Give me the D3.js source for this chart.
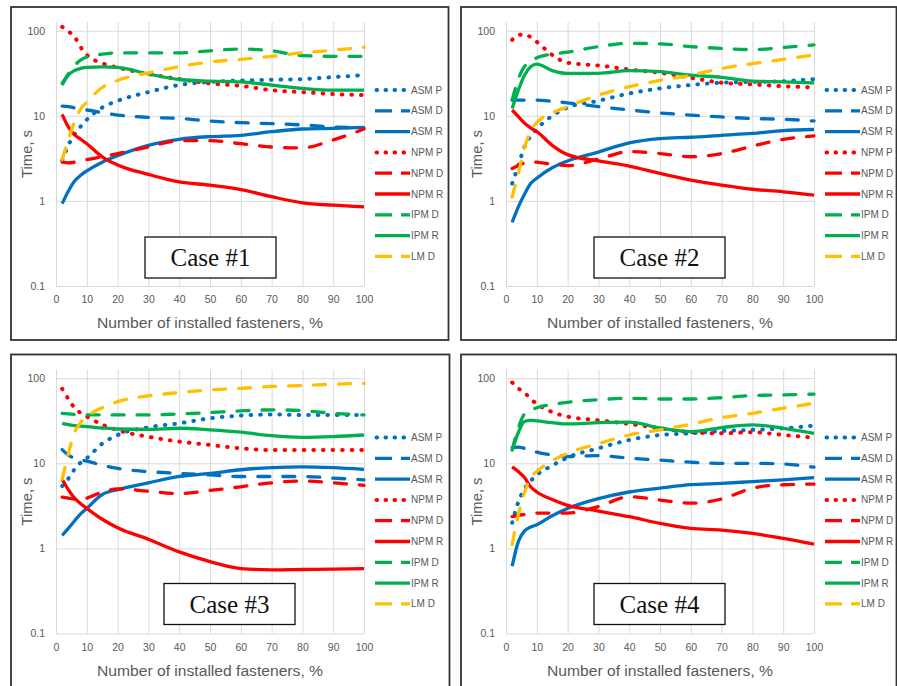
<!DOCTYPE html>
<html>
<head>
<meta charset="utf-8">
<script src="https://cdn.jsdelivr.net/npm/d3@7"></script>
<style>
  html, body { margin: 0; padding: 0; background: #fff; }
  svg { display: block; }
  .tick text { fill: #595959; font-family: "Liberation Sans", Arial, sans-serif; font-size: 10.5px; }
  .tick line { stroke: #d9d9d9; stroke-width: 1; }
  .domain { display: none; }
</style>
</head>
<body>
<script>
// Percentage of installed fasteners at which each time was recorded
const xs = [2, 4, 6, 8, 10, 15, 20, 30, 40, 50, 60, 70, 80, 90, 100];

// Series, in drawing order
const seriesNames = ["ASM P", "ASM D", "ASM R", "NPM P", "NPM D", "NPM R", "IPM D", "IPM R", "LM D"];
const seriesColors = ["#0070C0", "#0070C0", "#0070C0", "#FF0000", "#FF0000", "#FF0000", "#00B050", "#00B050", "#FFC000"];
const seriesStyles = ["dot", "dash", "solid", "dot", "dash", "solid", "dash", "solid", "dash"];

const caseLabels = ["Case #1", "Case #2", "Case #3", "Case #4"];

// Times, s — one row per series (order as seriesNames), one column per xs value
const case1 = [
  [3.0, 4.5, 6.0, 7.5, 9.0, 12.5, 15, 19, 23, 25, 26, 26.5, 27, 28.5, 30],
  [13, 12.8, 12.4, 12, 11.7, 10.9, 10.2, 9.6, 9.3, 8.7, 8.3, 8.1, 7.8, 7.4, 7.2],
  [0.93, 1.3, 1.7, 2.0, 2.25, 2.85, 3.4, 4.5, 5.3, 5.7, 5.9, 6.5, 7.0, 7.1, 7.3],
  [111, 98, 85, 64, 52, 41.5, 37, 31, 27, 24, 22.5, 20, 19, 18, 17.5],
  [2.85, 2.8, 2.85, 2.95, 3.05, 3.3, 3.6, 4.3, 5.1, 5.1, 4.7, 4.3, 4.2, 5.2, 7.0],
  [10.4, 7.4, 6.0, 5.3, 4.7, 3.3, 2.65, 2.05, 1.67, 1.53, 1.36, 1.12, 0.95, 0.89, 0.85],
  [24, 31, 39, 45, 49, 53, 55, 55, 55, 58, 61, 58, 51, 50, 50],
  [23, 30, 34, 36, 37, 37.5, 37, 31, 26.7, 25.6, 25, 23, 21, 20, 20],
  [3.06, 5.2, 8.5, 12, 14.5, 21.5, 26, 32, 37.7, 43, 46, 50, 55, 59, 64]
];
const case2 = [
  [1.6, 2.6, 4.3, 5.8, 7.0, 10, 12.5, 15, 18.3, 21, 23, 24.5, 25, 25.5, 27],
  [15.3, 15.3, 15.3, 15.3, 15.3, 14.8, 14.2, 12.8, 11.7, 10.8, 10.2, 9.7, 9.3, 9.1, 8.7],
  [0.56, 0.85, 1.2, 1.6, 1.85, 2.45, 2.95, 3.75, 4.8, 5.4, 5.6, 5.9, 6.2, 6.7, 6.9],
  [78, 89, 90, 84, 74, 52, 42, 39, 35, 32, 28, 24.5, 23.4, 22.3, 21.5],
  [2.4, 2.6, 2.8, 2.9, 2.85, 2.7, 2.6, 3.1, 3.8, 3.6, 3.3, 3.6, 4.4, 5.3, 5.8],
  [11.7, 9.8, 8.2, 7.2, 6.5, 4.5, 3.5, 2.95, 2.56, 2.1, 1.75, 1.53, 1.37, 1.28, 1.17],
  [15.3, 27, 38, 43, 48, 53, 56, 65, 71, 70, 65, 62, 60, 63.5, 68],
  [12.2, 20, 30, 37.7, 40.5, 34, 31.5, 31.5, 34, 33, 30, 28.3, 25.6, 25, 24.4],
  [1.11, 2.1, 4.2, 6.6, 8.3, 10.8, 12.8, 17.5, 22, 26, 30, 36, 41, 46, 52]
];
const case3 = [
  [5.4, 6.6, 8.5, 10.2, 11.5, 17, 21.5, 26.5, 29.5, 33.8, 36.4, 37.5, 37, 37, 37],
  [14.5, 12.5, 11.5, 11, 10.6, 9.5, 8.7, 8.0, 7.6, 7.3, 7.0, 7.0, 7.0, 6.7, 6.4],
  [1.42, 1.72, 2.1, 2.55, 2.95, 4.3, 4.9, 5.9, 7.0, 7.6, 8.4, 8.9, 9.1, 8.9, 8.5],
  [75, 57, 45, 39, 35.4, 28.5, 24.5, 20.5, 18, 16.4, 15, 14.3, 14.3, 14.3, 14.3],
  [4.0, 3.9, 3.8, 3.8, 3.9, 4.6, 5.0, 4.7, 4.4, 4.8, 5.3, 5.9, 6.2, 5.9, 5.5],
  [6.5, 4.9, 3.9, 3.35, 2.95, 2.2, 1.75, 1.28, 0.91, 0.7, 0.58, 0.56, 0.565, 0.57, 0.58],
  [38.5, 38, 37.5, 37, 37, 37, 37, 37, 38, 39.5, 41.3, 42.5, 41.6, 38.7, 37],
  [29.5, 28.5, 27.8, 27.3, 27, 26, 25.3, 25, 25.8, 24.7, 23.2, 21.1, 20.2, 20.6, 21.5],
  [6.5, 13, 23, 30, 35.4, 45, 53, 62, 67.8, 73, 76, 80, 82, 85, 87]
];
const case4 = [
  [2.0, 3.5, 5.0, 6.2, 7.3, 9.4, 11.7, 15, 18.8, 21.5, 22.5, 24, 24.7, 25.8, 27.7],
  [15.3, 15.5, 15, 14.2, 13.5, 12.5, 12, 12.3, 11.5, 10.9, 10.3, 10, 10, 9.8, 9.0],
  [0.62, 1.2, 1.6, 1.78, 1.9, 2.42, 2.95, 3.85, 4.6, 5.1, 5.6, 5.8, 6.1, 6.4, 6.8],
  [89, 76, 68, 57, 50, 40, 35.4, 32, 29, 25.8, 23.2, 22.5, 23.2, 21.5, 20],
  [2.36, 2.45, 2.5, 2.55, 2.6, 2.6, 2.6, 3.1, 4.05, 3.7, 3.4, 3.8, 5.1, 5.6, 5.7],
  [9.1, 8.0, 6.8, 5.3, 4.6, 3.75, 3.2, 2.75, 2.36, 1.97, 1.72, 1.64, 1.5, 1.31, 1.12],
  [14.3, 26, 38, 42, 45, 49, 52, 56, 58, 57, 57, 59, 62.5, 63.7, 65],
  [14.3, 23, 31, 32, 31.5, 30, 29, 30, 30.4, 26, 23.6, 26.3, 28.3, 25.8, 22.5],
  [1.11, 2.5, 4.5, 6.8, 8, 10.7, 13.1, 17, 21.5, 24.7, 28.8, 34.4, 38.7, 44.4, 50.8]
];
const cases = [case1, case2, case3, case4];

const xTicks = [0, 10, 20, 30, 40, 50, 60, 70, 80, 90, 100];
const yTicks = [0.1, 1, 10, 100];

// Panel placement on the page
const panelOrigins = [[0, 0], [450, 0], [0, 347.5], [450, 347.5]];
const frameWidths = [437.5, 435.5, 438.5, 435.5];
const caseBoxX = [145, 144, 164, 144];
const caseBoxY = [237, 237, 236, 236];

const W = 897, H = 686;
const svg = d3.select("body").append("svg").attr("width", W).attr("height", H);

const plot = { left: 56, right: 364, top: 30.7, bottom: 286, gridTop: 22 };
const font = "'Liberation Sans', Arial, sans-serif";

const dashFor = { dot: "0.6,9", dash: "12,13", solid: null };
const legendDashFor = { dot: "0.6,8.4", dash: "17,9", solid: null };

cases.forEach((data, i) => {
  const [ox, oy] = panelOrigins[i];
  const g = svg.append("g").attr("transform", `translate(${ox},${oy})`);

  const x = d3.scaleLinear().domain([0, 100]).range([plot.left, plot.right]);
  const y = d3.scaleLog().domain([0.1, 100]).range([plot.bottom, plot.top]);

  // Axes with full-length ticks as gridlines
  g.append("g")
    .attr("transform", `translate(0,${plot.bottom})`)
    .call(d3.axisBottom(x).tickValues(xTicks).tickSize(-(plot.bottom - plot.gridTop)).tickPadding(10));
  g.append("g")
    .attr("transform", `translate(${plot.left},0)`)
    .call(d3.axisLeft(y).tickValues(yTicks).tickFormat(d => d < 1 ? "0.1" : String(d))
      .tickSize(-(plot.right - plot.left)).tickPadding(11));

  // Axis titles
  g.append("text")
    .attr("x", (plot.left + plot.right) / 2).attr("y", 328)
    .attr("text-anchor", "middle")
    .attr("fill", "#595959").attr("font-family", font).attr("font-size", 14)
    .attr("textLength", 226).attr("lengthAdjust", "spacingAndGlyphs")
    .text("Number of installed fasteners, %");
  g.append("text")
    .attr("transform", `translate(32,154) rotate(-90)`)
    .attr("text-anchor", "middle")
    .attr("fill", "#595959").attr("font-family", font).attr("font-size", 14)
    .attr("textLength", 48).attr("lengthAdjust", "spacingAndGlyphs")
    .text("Time, s");

  // Series lines
  const line = d3.line()
    .x(d => x(d[0]))
    .y(d => y(d[1]))
    .curve(d3.curveMonotoneX);

  data.forEach((vals, k) => {
    const style = seriesStyles[k];
    const p = g.append("path")
      .datum(xs.map((xv, j) => [xv, vals[j]]))
      .attr("d", line)
      .attr("fill", "none")
      .attr("stroke", seriesColors[k])
      .attr("stroke-width", style === "dot" ? 4 : 3.3)
      .attr("stroke-linecap", style === "solid" ? "butt" : "round")
      .attr("stroke-linejoin", "round");
    if (dashFor[style]) p.attr("stroke-dasharray", dashFor[style]);
  });

  // Legend
  const legend = g.append("g").attr("transform", "translate(375,90)");
  seriesNames.forEach((name, k) => {
    const style = seriesStyles[k];
    const row = legend.append("g").attr("transform", `translate(0,${k * 20.8})`);
    const l = row.append("line")
      .attr("x1", style === "dot" ? 1.5 : 0).attr("x2", 35)
      .attr("y1", 0).attr("y2", 0)
      .attr("stroke", seriesColors[k])
      .attr("stroke-width", style === "dot" ? 4 : 3.3)
      .attr("stroke-linecap", style === "dot" ? "round" : "butt");
    if (legendDashFor[style]) l.attr("stroke-dasharray", legendDashFor[style]);
    row.append("text")
      .attr("x", 36).attr("y", 0).attr("dy", "0.35em")
      .attr("fill", "#595959").attr("font-family", font).attr("font-size", 10)
      .text(name);
  });

  // Case label box
  const bx = caseBoxX[i], by = caseBoxY[i];
  g.append("rect")
    .attr("x", bx).attr("y", by).attr("width", 131).attr("height", 41)
    .attr("fill", "#fff").attr("stroke", "#111").attr("stroke-width", 1.3);
  g.append("text")
    .attr("x", bx + 65.5).attr("y", by + 29)
    .attr("text-anchor", "middle")
    .attr("fill", "#111").attr("font-family", "'Liberation Serif', 'Times New Roman', serif")
    .attr("font-size", 25)
    .text(caseLabels[i]);

  // Panel frame
  g.append("rect")
    .attr("x", 11).attr("y", 7).attr("width", frameWidths[i]).attr("height", 333)
    .attr("fill", "none").attr("stroke", "#333").attr("stroke-width", 1.8);
});
</script>
</body>
</html>
